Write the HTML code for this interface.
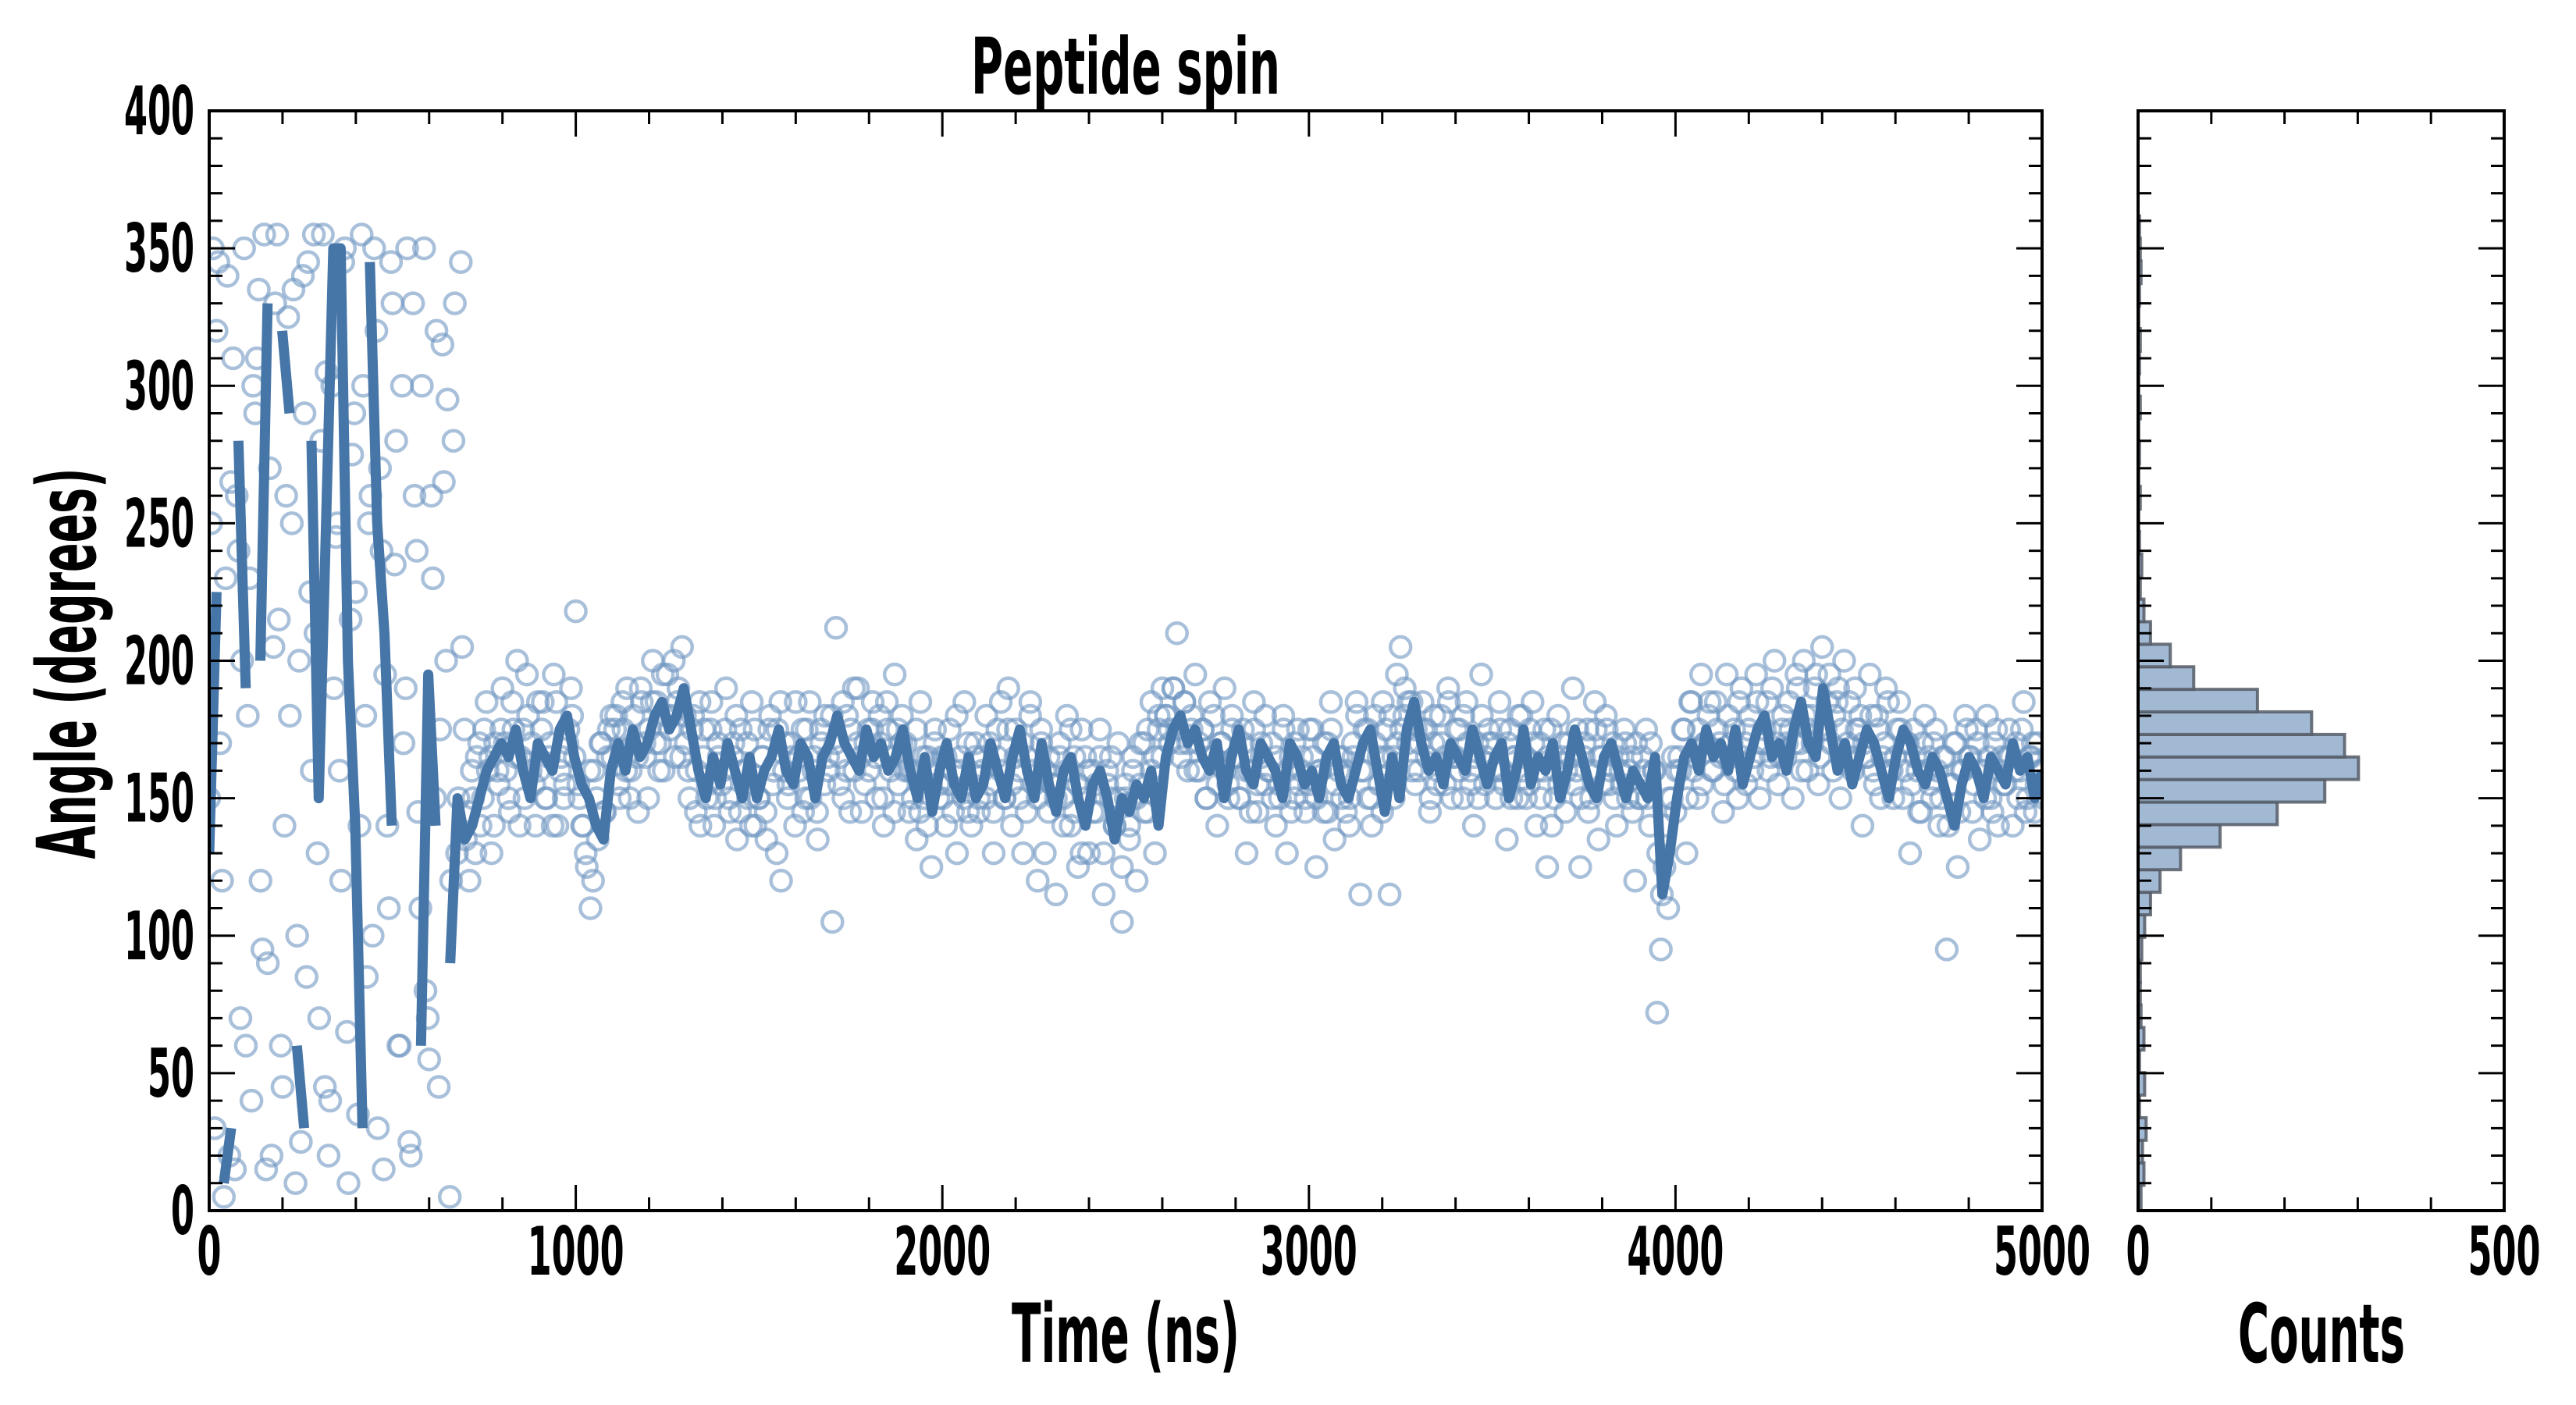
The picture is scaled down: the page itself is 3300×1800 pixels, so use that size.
<!DOCTYPE html>
<html><head><meta charset="utf-8">
<style>
html,body{margin:0;padding:0;background:#fff;}
svg{display:block;}
text{font-family:"Liberation Sans Narrow","DejaVu Sans Condensed","Liberation Sans",sans-serif;font-weight:bold;fill:#000;}
</style></head>
<body>
<svg id="chart" width="3300" height="1800" viewBox="0 0 3300 1800" xmlns="http://www.w3.org/2000/svg">
<text x="1442" y="120" font-size="100" text-anchor="middle" textLength="396" lengthAdjust="spacingAndGlyphs">Peptide spin</text>
<text x="1442" y="1745" font-size="104" text-anchor="middle" textLength="292" lengthAdjust="spacingAndGlyphs">Time (ns)</text>
<text x="0" y="0" font-size="104" text-anchor="middle" transform="translate(122,850) rotate(-90)" textLength="501" lengthAdjust="spacingAndGlyphs">Angle (degrees)</text>
<text x="2974" y="1745" font-size="104" text-anchor="middle" textLength="214" lengthAdjust="spacingAndGlyphs">Counts</text>
<g id="main"></g>
<g id="hist"></g>
</svg>
<script>
// ---- data ----
const timeRange = [0, 5000];
const angleRange = [0, 400];
const xTickLabels = ["0","1000","2000","3000","4000","5000"];
const yTickLabels = ["0","50","100","150","200","250","300","350","400"];
const histTickLabels = ["0","500"];
const histBinStart = 1;
const histBinWidth = 8.2;
const histCounts = [4,8,6,11,2,9,2,8,4,3,3,5,9,17,30,58,112,190,255,301,282,237,163,76,44,17,8,3,5,2,1,3,1,2,1,3,1,2,3,1,2,4,3,2];
const lineValues = [
130,225,10,30,280,190,20,200,330,110,320,290,60,30,280,150,250,350,350,200,140,30,345,250,210,140,300,50,270,60,195,140,310,90,150,135,
140,150,160,165,170,165,175,160,150,170,165,160,175,180,165,155,
150,140,135,160,170,160,175,165,170,180,185,175,180,190,
175,160,150,165,155,170,160,150,165,150,
160,165,175,160,155,170,165,150,165,170,
180,170,165,160,175,165,170,160,165,175,
160,150,165,145,160,170,155,150,165,150,
155,170,160,150,165,175,160,150,170,155,
145,160,165,150,140,155,160,150,135,150,
145,155,150,160,140,165,175,180,170,175,
165,160,170,150,165,175,160,155,170,165,
160,150,170,165,155,160,150,165,170,155,
150,160,170,175,160,145,165,150,175,185,
170,160,165,155,170,165,160,175,165,155,
165,170,150,160,175,155,165,160,170,150,
160,175,165,155,150,165,170,160,150,160,
155,150,165,115,130,150,165,170,160,175,
165,170,160,175,155,165,175,180,165,170,
160,175,185,170,165,190,175,160,170,155,
165,175,170,160,150,165,175,170,160,155,
165,160,150,140,155,165,160,150,165,160,
155,170,160,165,150,160];
const scatterValues = [
150,350,320,170,5,340,265,15,240,200,60,230,300,310,120,355,90,20,330,215,45,260,180,335,100,25,290,345,160,210,70,355,305,40,190,250,120,350,10,275,225,140,300,85,260,350,30,240,195,110,330,280,60,170,350,20,260,145,300,80,55,230,320,175,265,295,120,330,150,205,
135,120,150,165,140,175,160,130,170,155,
190,160,145,175,200,165,150,180,170,140,
160,185,150,170,195,140,165,155,175,180,
218,150,140,125,110,160,135,170,145,175,
165,180,150,175,190,160,170,145,185,165,
175,200,185,170,160,195,180,165,190,205,
170,150,180,160,140,175,155,185,150,165,
160,190,145,170,135,175,160,150,185,140,
150,165,135,180,160,175,120,170,155,165,
185,160,145,175,150,165,135,170,180,160,
105,212,165,150,180,175,160,190,145,170,
160,185,150,170,140,175,165,195,155,180,
170,145,160,135,185,150,165,125,175,155,
150,140,175,160,130,165,185,145,155,170,
145,165,180,155,130,175,160,150,190,140,
175,150,130,165,185,155,120,170,160,145,
155,115,170,150,180,140,165,125,175,150,
130,160,145,175,115,155,165,140,150,105,
150,135,165,120,155,170,145,160,130,175,
165,180,175,190,210,170,185,160,175,195,
160,175,150,185,165,140,170,190,155,180,
165,150,175,130,160,185,145,170,155,160,
170,140,155,180,130,165,150,175,160,145,
155,175,125,160,145,170,185,135,165,150,
160,140,170,185,115,160,175,150,180,165,
145,175,115,165,195,205,180,170,185,155,
160,185,175,145,170,155,180,165,190,150,
165,175,150,185,160,140,170,195,155,175,
170,150,185,160,135,175,165,150,180,165,
155,185,140,170,160,125,175,150,180,165,
145,170,190,160,125,165,175,150,185,135,
165,180,155,170,140,160,175,150,165,120,
150,165,175,140,160,72,95,125,110,150,
145,165,175,130,185,160,150,195,170,180,
160,185,170,145,195,165,175,150,190,170,
175,160,195,150,170,185,165,200,155,175,
165,185,150,195,170,200,160,180,190,155,
205,175,195,160,185,150,200,170,165,190,
175,140,165,195,160,180,150,170,185,160,
165,185,150,170,130,175,160,145,180,165,
150,175,140,165,95,155,170,125,160,180,
165,145,175,135,160,180,150,170,140,165,
155,175,140,170,160,185,150,165,145,170,
160];
// second sampling of the same trajectory (offset by half a step)
const scatterValuesB = [
250,30,345,120,230,20,310,260,70,350,180,40,290,335,95,15,270,205,355,60,140,325,250,10,200,340,85,225,355,130,280,45,20,300,245,160,345,65,215,290,35,355,180,250,100,320,270,15,140,345,235,60,300,190,25,330,240,110,350,70,260,150,45,315,200,5,280,130,345,175,
145,160,130,170,150,185,165,140,160,175,
170,150,185,165,140,175,195,160,155,185,
175,150,165,140,185,160,150,170,190,165,
155,140,130,160,120,150,170,145,165,180,
175,155,185,160,150,180,165,190,170,150,
185,170,160,195,180,175,200,185,165,180,
160,175,145,185,165,150,175,140,170,155,
175,150,165,180,145,160,170,140,175,150,
165,145,175,155,130,185,160,150,170,140,
165,175,150,185,160,145,175,155,165,180,
170,155,185,160,145,190,170,165,155,175,
175,165,180,150,185,160,145,175,170,160,
160,150,175,145,165,140,155,170,150,165,
165,155,145,180,160,150,170,140,165,150,
160,150,170,145,165,185,150,175,155,165,
160,170,145,180,160,150,175,130,165,155,
150,165,140,160,175,145,155,130,165,160,
145,155,165,130,160,150,140,170,125,155,
140,160,150,170,145,175,185,165,180,190,
180,170,190,175,165,185,170,180,160,170,
175,150,165,180,155,170,160,150,175,165,
150,170,160,145,175,155,165,180,160,150,
165,150,175,160,145,170,155,165,150,175,
165,150,160,170,145,175,155,160,165,145,
150,165,180,160,175,150,140,170,155,185,
165,180,150,170,175,190,185,160,175,170,
175,165,150,180,160,170,155,185,165,175,
160,180,170,155,165,150,180,165,170,160,
160,175,155,170,150,165,180,160,150,175,
170,160,150,175,165,140,160,155,170,160,
165,155,175,150,170,145,160,175,165,155,
175,160,150,165,155,170,160,145,170,150,
160,150,170,160,130,115,140,150,165,160,
160,175,150,185,165,175,155,170,185,160,
175,165,155,180,170,160,185,165,155,180,
165,185,170,175,160,190,170,165,180,170,
175,170,190,160,180,175,170,195,165,175,
185,170,180,190,175,165,185,160,175,180,
170,165,180,155,175,165,190,160,150,175,
175,160,170,155,165,145,170,160,155,170,
160,150,165,140,155,170,145,160,175,165,
155,170,160,150,165,145,175,160,155,165,
165,160,150,175,145,165,170,155,160,150];

// ---- layout ----
const NS = "http://www.w3.org/2000/svg";
const M = {l:268, r:2616, t:142, b:1551};
const H = {l:2739, r:3208};
const histMax = 500;
const xS = v => M.l + (v - timeRange[0]) / (timeRange[1]-timeRange[0]) * (M.r - M.l);
const yS = v => M.b - (v - angleRange[0]) / (angleRange[1]-angleRange[0]) * (M.b - M.t);
const hS = v => H.l + v / histMax * (H.r - H.l);
const BLUE = "#4675a8";

function mk(tag, attrs, parent){
  const e = document.createElementNS(NS, tag);
  for (const k in attrs) e.setAttribute(k, attrs[k]);
  parent.appendChild(e);
  return e;
}
const main = document.getElementById('main');
const hist = document.getElementById('hist');

const defs = mk('defs', {}, document.getElementById('chart'));
const cp = mk('clipPath', {id:'clipMain'}, defs);
mk('rect', {x:M.l, y:M.t, width:M.r-M.l, height:M.b-M.t}, cp);
const plotG = mk('g', {'clip-path':'url(#clipMain)'}, main);



// scatter
function drawScatter(vals, offsetFrac){
  const n = vals.length;
  const step = (timeRange[1]-timeRange[0]) / (n - 1);
  vals.forEach((v, i) => {
    const t = timeRange[0] + (i + offsetFrac) * step;
    const c = mk('circle', {cx:xS(t), cy:yS(v), r:13, fill:'none', stroke:'#7096c2', 'stroke-width':4.5, 'stroke-opacity':0.6}, plotG);
    
    
  });
}
drawScatter(scatterValues, 0);
drawScatter(scatterValuesB, 0.5);

// smoothed line with breaks on wrap jumps
const lnN = lineValues.length;
let d = "";
lineValues.forEach((v, i) => {
  const t = timeRange[0] + i * (timeRange[1]-timeRange[0]) / (lnN - 1);
  const brk = i === 0 || Math.abs(v - lineValues[i-1]) > 150;
  d += (brk ? "M" : "L") + xS(t).toFixed(1) + "," + yS(v).toFixed(1) + " ";
});
const line = mk('path', {d:d, fill:'none', stroke:BLUE, 'stroke-width':13, 'stroke-linejoin':'round'}, plotG);



// histogram bars
histCounts.forEach((c, i) => {
  const a0 = histBinStart + i * histBinWidth, a1 = a0 + histBinWidth;
  const y0 = Math.max(yS(a1), M.t), y1 = yS(a0);
  if (y1 <= M.t) return;
  const r = mk('rect', {x:H.l, y:y0, width:Math.max(hS(c)-H.l,0.5), height:y1-y0, fill:'#a2b9d3', stroke:'#555c66', 'stroke-width':4, 'stroke-opacity':0.85}, hist);
  
  
});

function frame(g, x0, x1, name){
  const r = mk('rect', {x:x0, y:M.t, width:x1-x0, height:M.b-M.t, fill:'none', stroke:'#000', 'stroke-width':4}, g);
  
  
}
function yTicks(g, x0, x1){
  for (let v = angleRange[0]; v <= angleRange[1]; v += 10) {
    const y = yS(v), L = (v % 50 === 0) ? 33 : 17;
    mk('line', {x1:x0, y1:y, x2:x0+L, y2:y, stroke:'#000', 'stroke-width':3}, g);
    mk('line', {x1:x1, y1:y, x2:x1-L, y2:y, stroke:'#000', 'stroke-width':3}, g);
  }
}
frame(main, M.l, M.r, 'main-axes-frame');
yTicks(main, M.l, M.r);
for (let v = timeRange[0]; v <= timeRange[1]; v += 200) {
  const x = xS(v), L = (v % 1000 === 0) ? 33 : 17;
  mk('line', {x1:x, y1:M.b, x2:x, y2:M.b-L, stroke:'#000', 'stroke-width':3}, main);
  mk('line', {x1:x, y1:M.t, x2:x, y2:M.t+L, stroke:'#000', 'stroke-width':3}, main);
}
xTickLabels.forEach(s => {
  const t = mk('text', {x:xS(+s), y:1633, 'font-size':86, 'text-anchor':'middle', textLength:s.length*31, lengthAdjust:'spacingAndGlyphs'}, main);
  t.textContent = s;
  
  
});
yTickLabels.forEach(s => {
  const t = mk('text', {x:249, y:yS(+s)+30, 'font-size':86, 'text-anchor':'end', textLength:s.length*30, lengthAdjust:'spacingAndGlyphs'}, main);
  t.textContent = s;
  
  
});

frame(hist, H.l, H.r, 'hist-axes-frame');
yTicks(hist, H.l, H.r);
for (let v = 0; v <= histMax; v += 100) {
  const x = hS(v), L = 17;
  mk('line', {x1:x, y1:M.b, x2:x, y2:M.b-L, stroke:'#000', 'stroke-width':3}, hist);
  mk('line', {x1:x, y1:M.t, x2:x, y2:M.t+L, stroke:'#000', 'stroke-width':3}, hist);
}
histTickLabels.forEach(s => {
  const t = mk('text', {x:hS(+s), y:1633, 'font-size':86, 'text-anchor':'middle', textLength:s.length*31, lengthAdjust:'spacingAndGlyphs'}, hist);
  t.textContent = s;
  
  
});
</script>
</body></html>
